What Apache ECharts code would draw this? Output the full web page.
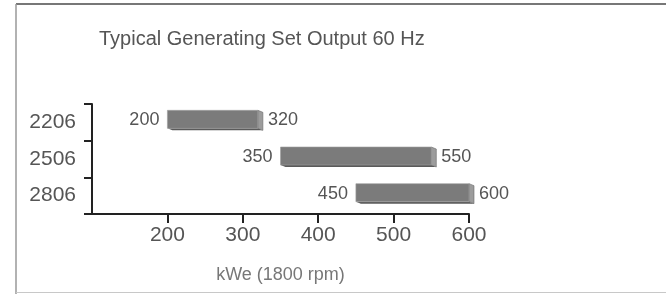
<!DOCTYPE html>
<html>
<head>
<meta charset="utf-8">
<script src="https://cdn.jsdelivr.net/npm/echarts@6/dist/echarts.min.js"></script>
<style>
  html, body { margin: 0; padding: 0; background: #fff; }
  #chart { width: 666px; height: 294px; }
</style>
</head>
<body>
<div id="chart"></div>
<script>
const models = ["2206", "2506", "2806"];
const minKwe = [200, 350, 450];
const maxKwe = [320, 550, 600];
const xTicks = [100, 200, 300, 400, 500, 600];

const font = "Liberation Sans, Arial, sans-serif";
const chart = echarts.init(document.getElementById("chart"));

// extruded bar: front face, lighter right side, dark bottom strip
function renderRange(params, api) {
  const cat = api.value(0);
  const start = api.coord([api.value(1), cat]);
  const end = api.coord([api.value(2), cat]);
  const h = 18;
  const dx = 5;
  const dy = 2;
  const x0 = start[0];
  const x1 = end[0];
  const y0 = start[1] - 3 - h / 2;
  const y1 = y0 + h;
  return {
    type: "group",
    children: [
      {
        type: "polygon",
        shape: { points: [[x0, y1], [x1, y1], [x1 + dx, y1 + dy], [x0 + dx, y1 + dy]] },
        style: { fill: "#5a5a5a" },
      },
      {
        type: "polygon",
        shape: { points: [[x1, y0], [x1 + dx, y0 + dy], [x1 + dx, y1 + dy], [x1, y1]] },
        style: { fill: "#9c9c9c", stroke: "#6a6a6a", lineWidth: 0.6 },
      },
      {
        type: "rect",
        shape: { x: x0, y: y0, width: x1 - x0, height: h },
        style: { fill: "#7b7b7b", stroke: "#a0a0a0", lineWidth: 0.6 },
      },
      {
        type: "text",
        style: {
          x: x0 - 8, y: (y0 + y1) / 2 + 1, text: String(api.value(1)),
          align: "right", verticalAlign: "middle",
          font: "18px " + font, fill: "#555",
        },
      },
      {
        type: "text",
        style: {
          x: x1 + dx + 5, y: (y0 + y1) / 2 + 1, text: String(api.value(2)),
          align: "left", verticalAlign: "middle",
          font: "18px " + font, fill: "#555",
        },
      },
    ],
  };
}

chart.setOption({
  animation: false,
  title: {
    text: "Typical Generating Set Output 60 Hz",
    left: 94,
    top: 24,
    textStyle: { fontFamily: font, fontSize: 20, fontWeight: "normal", color: "#555" },
  },
  grid: { left: 92, right: 197, top: 104, bottom: 80 },
  xAxis: {
    type: "value",
    min: xTicks[0],
    max: xTicks[xTicks.length - 1],
    interval: 100,
    name: "kWe (1800 rpm)",
    nameLocation: "middle",
    nameGap: 52,
    nameTextStyle: { fontFamily: font, fontSize: 18, color: "#777" },
    splitLine: { show: false },
    axisLine: { show: true, lineStyle: { color: "#222", width: 2 } },
    axisTick: { show: true, length: 9, lineStyle: { color: "#222", width: 2 } },
    axisLabel: {
      showMinLabel: false,
      margin: 11,
      fontFamily: font,
      fontSize: 21,
      color: "#555",
    },
  },
  yAxis: {
    type: "category",
    inverse: true,
    data: models,
    axisLine: { show: true, lineStyle: { color: "#222", width: 2 } },
    axisTick: { show: true, length: 8, lineStyle: { color: "#222", width: 2 } },
    axisLabel: {
      margin: 16,
      padding: [4, 0, 0, 0],
      fontFamily: font,
      fontSize: 21,
      color: "#555",
    },
  },
  series: [
    {
      type: "custom",
      renderItem: renderRange,
      encode: { x: [1, 2], y: 0 },
      data: models.map((m, i) => [i, minKwe[i], maxKwe[i]]),
    },
  ],
  graphic: [
    { type: "line", shape: { x1: 16, y1: 4, x2: 666, y2: 4 }, style: { stroke: "#777", lineWidth: 2 } },
    { type: "line", shape: { x1: 16, y1: 4, x2: 16, y2: 294 }, style: { stroke: "#999", lineWidth: 1.5 } },
    { type: "line", shape: { x1: 16, y1: 292.5, x2: 666, y2: 292.5 }, style: { stroke: "#c8c8c8", lineWidth: 1 } },
  ],
});
</script>
</body>
</html>
